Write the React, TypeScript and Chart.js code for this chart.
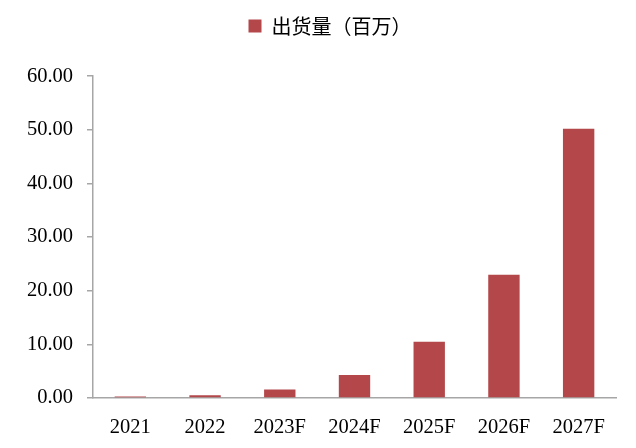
import React, { useEffect, useRef } from "react";
import { Chart, registerables } from "chart.js";

Chart.register(...registerables);

const categories = ["2021", "2022", "2023F", "2024F", "2025F", "2026F", "2027F"];
const shipments = [0.3, 0.5, 1.6, 4.3, 10.5, 23.0, 50.2];
const seriesLabel = "出货量（百万）";
const yMin = 0;
const yMax = 60;
const yStep = 10;

const legendShift = {
  id: "legendShift",
  afterLayout(chart: any) {
    if (chart.legend) {
      chart.legend.left += 44;
    }
  },
};

export default function App() {
  const ref = useRef<HTMLCanvasElement | null>(null);
  useEffect(() => {
    document.body.style.margin = "0";
    const canvas = ref.current;
    if (!canvas) return;
    const chart = new Chart(canvas, {
      type: "bar",
      data: {
        labels: categories,
        datasets: [
          {
            label: seriesLabel,
            data: shipments,
            backgroundColor: "#B3474A",
            borderWidth: 0,
            barPercentage: 0.42,
            categoryPercentage: 1,
          },
        ],
      },
      plugins: [legendShift],
      options: {
        responsive: false,
        animation: false,
        devicePixelRatio: 1,
        layout: { padding: { left: 0, right: 20, top: 6, bottom: 0 } },
        plugins: {
          tooltip: { enabled: false },
          title: {
            display: true,
            text: "",
            weight: 500,
            font: { size: 1 },
            padding: { top: 0, bottom: 29 },
          },
          legend: {
            position: "top",
            labels: {
              boxWidth: 13,
              boxHeight: 13,
              padding: 10,
              color: "#000",
              font: { family: "'Noto Sans CJK SC'", size: 20 },
            },
          },
        },
        scales: {
          x: {
            grid: { display: false, drawTicks: false },
            border: { display: true, color: "#A6A6A6", width: 1.5 },
            ticks: {
              color: "#000",
              padding: 17,
              font: { family: "'Liberation Serif'", size: 20.5 },
            },
            afterFit: (scale: any) => {
              scale.height = 50;
            },
          },
          y: {
            min: yMin,
            max: yMax,
            grid: {
              display: true,
              drawOnChartArea: false,
              drawTicks: true,
              tickLength: 6,
              color: "#A6A6A6",
              lineWidth: 1.5,
            },
            border: { display: true, color: "#A6A6A6", width: 1.5 },
            ticks: {
              stepSize: yStep,
              color: "#000",
              padding: 14,
              font: { family: "'Liberation Serif'", size: 20.5 },
              callback: (v: any) => Number(v).toFixed(2),
            },
            afterFit: (scale: any) => {
              scale.width = 93;
            },
          },
        },
      },
    });
    return () => chart.destroy();
  }, []);
  return <canvas ref={ref} width={636} height={448} style={{ display: "block" }} />;
}
